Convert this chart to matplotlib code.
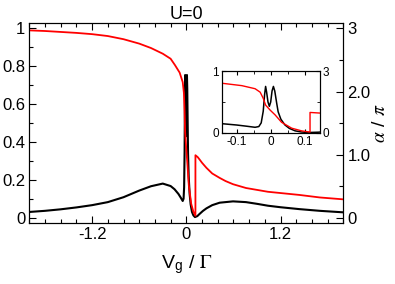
import matplotlib
matplotlib.use('Agg')
import matplotlib.pyplot as plt
from matplotlib.ticker import MultipleLocator

plt.rcParams['font.family'] = ['Liberation Sans', 'DejaVu Sans']
plt.rcParams['mathtext.fontset'] = 'stix'

# black curve, left axis
g_x = [-2.0, -1.8, -1.6, -1.4, -1.2, -1.0, -0.8, -0.6, -0.45, -0.3, -0.2,
       -0.15, -0.1, -0.07, -0.046, -0.035, -0.028, -0.022, -0.018, -0.015,
       -0.012, -0.008, -0.004, 0.0, 0.004, 0.008, 0.012, 0.018, 0.022, 0.03,
       0.042, 0.055, 0.072, 0.09, 0.11, 0.14, 0.17, 0.21, 0.256, 0.33, 0.425,
       0.595, 0.76, 0.9, 1.04, 1.2, 1.44, 1.7, 2.0]
g_y = [0.03, 0.036, 0.044, 0.054, 0.066, 0.082, 0.108, 0.143, 0.166, 0.18, 0.167,
       0.15, 0.125, 0.105, 0.088, 0.10, 0.16, 0.35, 0.62, 0.754,
       0.66, 0.50, 0.43, 0.50, 0.68, 0.754, 0.68, 0.47, 0.34, 0.22,
       0.126, 0.07, 0.03, 0.012, 0.003, 0.008, 0.02, 0.035, 0.049, 0.066, 0.079,
       0.086, 0.082, 0.073, 0.063, 0.055, 0.045, 0.036, 0.028]

# red curve, right axis (alpha / pi)
a_x = [-2.0, -1.8, -1.6, -1.4, -1.2, -1.0, -0.8, -0.6, -0.45, -0.3, -0.2,
       -0.145, -0.085, -0.046, -0.031, -0.022, -0.015, -0.002, 0.013, 0.032,
       0.062, 0.091, 0.116, 0.116, 0.145, 0.17, 0.2, 0.256, 0.33, 0.425, 0.5,
       0.595, 0.76, 0.9, 1.04, 1.2, 1.44, 1.7, 2.0]
a_y = [2.97, 2.96, 2.945, 2.93, 2.91, 2.88, 2.83, 2.76, 2.69, 2.60, 2.52,
       2.42, 2.30, 2.15, 1.98, 1.68, 1.35, 1.11, 0.87, 0.51,
       0.22, 0.09, 0.03, 0.99, 0.96, 0.92, 0.87, 0.79, 0.70, 0.63, 0.58,
       0.53, 0.47, 0.44, 0.41, 0.39, 0.36, 0.32, 0.29]

fig = plt.figure(figsize=(3.95, 2.84), dpi=100)
ax = fig.add_axes([0.0742, 0.2137, 0.795, 0.706])
ax2 = ax.twinx()

ax.plot(g_x, g_y, color='k', lw=1.5)
ax2.plot(a_x, a_y, color='red', lw=1.3)

ax.set_xlim(-2, 2)
ax.set_ylim(-0.03, 1.03)
ax2.set_ylim(-0.09, 3.09)

ax.set_xticks([-1.2, 0, 1.2])
ax.set_xticklabels(['-1.2', '0', '1.2'])
ax.xaxis.set_minor_locator(MultipleLocator(0.2))
ax.set_yticks([0, 0.2, 0.4, 0.6, 0.8, 1.0])
ax.set_yticklabels(['0', '0.2', '0.4', '0.6', '0.8', '1'])
ax.yaxis.set_minor_locator(MultipleLocator(0.1))
ax2.set_yticks([0, 1, 2, 3])
ax2.set_yticklabels(['0', '1.0', '2.0', '3'])
ax2.yaxis.set_minor_locator(MultipleLocator(0.5))

ax.tick_params(which='both', direction='in', top=True, right=False, labelsize=12, pad=3)
ax.tick_params(which='major', length=5, width=0.8)
ax.tick_params(which='minor', length=3, width=0.8)
ax2.tick_params(which='both', direction='in', labelsize=12, pad=3)
ax2.tick_params(which='major', length=5, width=0.8)
ax2.tick_params(which='minor', length=3, width=0.8)

ax.set_title('U=0', fontsize=13, pad=3)
ax.set_xlabel(r'V$_\mathregular{g}$ / $\Gamma$', fontsize=14, labelpad=8)
ax2.set_ylabel(r'$\alpha$ / $\pi$', fontsize=14, labelpad=1)

# inset
ins = fig.add_axes([0.5608, 0.5306, 0.249, 0.2204])
ins2 = ins.twinx()
ins.plot(g_x, g_y, color='k', lw=1.1)
ins2.plot(a_x, a_y, color='red', lw=1.0)
ins.set_xlim(-0.145, 0.145)
ins.set_ylim(-0.01, 1.01)
ins2.set_ylim(-0.03, 3.03)
ins.set_xticks([-0.1, 0, 0.1])
ins.set_xticklabels(['-0.1', '0', '0.1'])
ins.xaxis.set_minor_locator(MultipleLocator(0.05))
ins.set_yticks([0, 1])
ins.set_yticklabels(['0', '1'])
ins.yaxis.set_minor_locator(MultipleLocator(0.5))
ins2.set_yticks([0, 3])
ins2.set_yticklabels(['0', '3'])
ins2.yaxis.set_minor_locator(MultipleLocator(1.5))
ins.tick_params(which='both', direction='in', top=True, right=False, labelsize=8.5, pad=2)
ins.tick_params(which='major', length=3)
ins.tick_params(which='minor', length=2)
ins2.tick_params(which='both', direction='in', labelsize=8.5, pad=2)
ins2.tick_params(which='major', length=3)
ins2.tick_params(which='minor', length=2)

fig.savefig('out.png', dpi=100)
